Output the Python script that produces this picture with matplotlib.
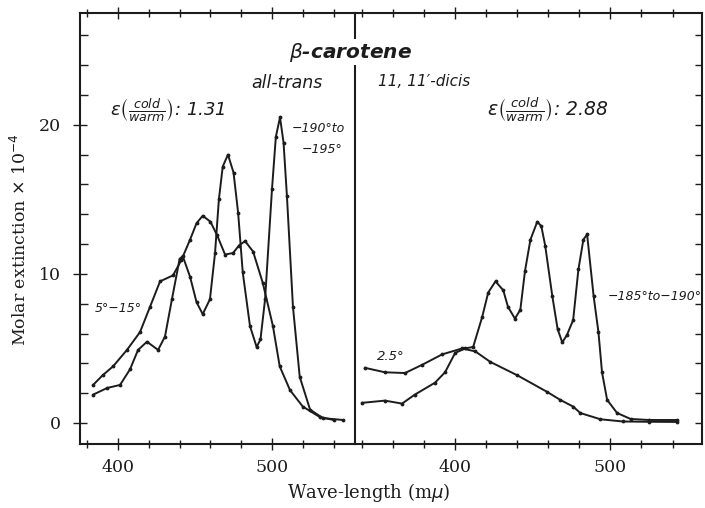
"""
beta_carotene_spectra.py
Absorption curves of all-trans and 11,11'-dicis beta-carotene, warm vs cold.
"""

import matplotlib
matplotlib.use("Agg")
import matplotlib.pyplot as plt
from matplotlib.ticker import MultipleLocator, FixedLocator

W, H = 705, 508

# all-trans (left panel), warm 5-15 deg
TRANS_WARM_WL = [383.8, 390, 396.8, 405.8, 414.3, 420.8, 427.3, 435.7, 441, 446.8,
                 451, 455, 460, 464.3, 469.5, 474.7, 478.5, 482.5, 487.7, 494,
                 500.6, 505, 511.7, 520, 531, 540]
TRANS_WARM_EPS = [2.55, 3.2, 3.8, 4.9, 6.1, 7.8, 9.5, 9.9, 10.9, 12.3,
                  13.4, 13.9, 13.5, 12.6, 11.3, 11.4, 11.9, 12.2, 11.5, 9.4,
                  6.5, 3.8, 2.2, 1.1, 0.4, 0.2]

# all-trans, cold -190 to -195 deg
TRANS_COLD_WL = [383.8, 393, 401.3, 407.8, 413, 418.8, 426, 430.5, 435, 440,
                 442, 446.8, 451, 455, 459.7, 463, 465.5, 468, 471.4, 475,
                 478, 481, 485.7, 490, 492.5, 495.5, 500, 502.5, 505.2, 507.5,
                 509.7, 513.6, 518, 524.7, 533, 546]
TRANS_COLD_EPS = [1.9, 2.35, 2.55, 3.6, 4.9, 5.45, 4.9, 5.8, 8.3, 11.0,
                  11.2, 9.8, 8.1, 7.3, 8.3, 11.4, 15.0, 17.2, 18.0, 16.8,
                  14.1, 10.1, 6.5, 5.1, 5.6, 8.3, 15.7, 19.2, 20.5, 18.8,
                  15.2, 7.8, 3.1, 0.9, 0.33, 0.2]

# 11,11'-dicis (right panel), warm 25 deg
DICIS_WARM_WL = [341.9, 354.8, 367.7, 378.7, 391.6, 404.5, 413, 422.6, 440, 459,
                 467.7, 476, 480.6, 493.5, 508, 525, 543]
DICIS_WARM_EPS = [3.7, 3.4, 3.35, 3.9, 4.6, 5.0, 4.8, 4.1, 3.2, 2.1,
                  1.55, 1.1, 0.67, 0.25, 0.1, 0.08, 0.07]

# 11,11'-dicis, cold -185 to -190 deg
DICIS_COLD_WL = [340, 354.8, 365.8, 374, 387, 393.5, 400, 406.5, 411.6, 417.4,
                 421.3, 426, 431, 434, 438.5, 442, 445, 448.5, 452.9, 455.5,
                 458, 462.6, 466, 469, 472, 476, 479.4, 482.6, 485, 489.2,
                 492.3, 494.6, 497.9, 504.3, 513, 525, 543]
DICIS_COLD_EPS = [1.35, 1.5, 1.3, 1.9, 2.7, 3.4, 4.7, 5.0, 5.1, 7.1,
                  8.75, 9.5, 8.9, 7.8, 7.0, 7.6, 10.2, 12.3, 13.5, 13.2,
                  11.9, 8.5, 6.3, 5.4, 5.9, 6.9, 10.3, 12.3, 12.65, 8.5,
                  6.1, 3.4, 1.55, 0.67, 0.27, 0.2, 0.2]

INK = "#1c1c1c"
SERIF = "DejaVu Serif"
HAND = dict(family="DejaVu Sans", style="italic", color=INK)


def fx(px):
    return px / W


def fy(py):
    return 1 - py / H


def style_axis(ax, side):
    ax.set_ylim(-1.41, 27.5)
    for sp in ax.spines.values():
        sp.set_linewidth(1.5)
        sp.set_color(INK)
    ax.xaxis.set_major_locator(FixedLocator([400, 500]))
    ax.xaxis.set_minor_locator(MultipleLocator(20))
    ax.yaxis.set_major_locator(FixedLocator([0, 10, 20]))
    ax.yaxis.set_minor_locator(MultipleLocator(2))
    ax.tick_params(axis="x", which="both", top=True, bottom=True,
                   direction="inout", color=INK, width=1)
    ax.tick_params(axis="x", which="major", length=9, pad=6,
                   labelsize=12.5, labelfontfamily=SERIF, labelcolor=INK)
    ax.tick_params(axis="x", which="minor", length=6)
    if side == "left":
        ax.spines["right"].set_visible(False)
        ax.tick_params(axis="y", which="both", left=True, right=False,
                       direction="inout", color=INK, width=1)
        ax.tick_params(axis="y", which="major", length=10, pad=9,
                       labelsize=12.5, labelfontfamily=SERIF, labelcolor=INK)
        ax.tick_params(axis="y", which="minor", direction="in", length=6)
    else:
        ax.tick_params(axis="y", which="both", left=False, right=True,
                       labelleft=False, direction="in", color=INK,
                       width=1, length=5)


def draw_curve(ax, wl, eps):
    ax.plot(wl, eps, color=INK, lw=1.4, marker=".", markersize=3.5)


fig = plt.figure(figsize=(W / 100, H / 100), dpi=100)
ax_l = fig.add_axes([fx(80), fy(444), fx(355 - 80), (444 - 13) / H])
ax_r = fig.add_axes([fx(355), fy(444), fx(702 - 355), (444 - 13) / H])

ax_l.set_xlim(375.3, 553.9)
ax_r.set_xlim(335.5, 559)
style_axis(ax_l, "left")
style_axis(ax_r, "right")

draw_curve(ax_l, TRANS_WARM_WL, TRANS_WARM_EPS)
draw_curve(ax_l, TRANS_COLD_WL, TRANS_COLD_EPS)
draw_curve(ax_r, DICIS_WARM_WL, DICIS_WARM_EPS)
draw_curve(ax_r, DICIS_COLD_WL, DICIS_COLD_EPS)

fig.text(fx(20), fy(240), r"Molar extinction $\times$ 10$^{-4}$", rotation=90,
         ha="center", va="center", family=SERIF, fontsize=12.5, color=INK)
fig.text(fx(369), fy(493), r"Wave-length (m$\mu$)", ha="center", va="center",
         family=SERIF, fontsize=13, color=INK)

# labels written on the plate
fig.text(fx(350), fy(52), r"$\beta$-carotene", ha="center", va="center",
         fontsize=14.5, weight="bold", zorder=10,
         bbox=dict(fc="white", ec="none", pad=1), **HAND)
fig.text(fx(287), fy(83), "all-trans", ha="center", va="center", fontsize=12.5, **HAND)
fig.text(fx(378), fy(82), "11, 11\u2032-dicis", ha="left", va="center", fontsize=11, **HAND)
fig.text(fx(110), fy(110), r"$\epsilon\left(\frac{cold}{warm}\right)$: 1.31",
         ha="left", va="center", fontsize=13, **HAND)
fig.text(fx(487), fy(110), r"$\epsilon\left(\frac{cold}{warm}\right)$: 2.88",
         ha="left", va="center", fontsize=13.5, **HAND)
fig.text(fx(292), fy(128), "\u2212190\u00b0to", ha="left", va="center", fontsize=9, **HAND)
fig.text(fx(302), fy(150), "\u2212195\u00b0", ha="left", va="center", fontsize=9, **HAND)
fig.text(fx(95), fy(308), "5\u00b0\u221215\u00b0", ha="left", va="center", fontsize=9, **HAND)
fig.text(fx(377), fy(357), "2.5\u00b0", ha="left", va="center", fontsize=9.5, **HAND)
fig.text(fx(608), fy(297), "\u2212185\u00b0to\u2212190\u00b0", ha="left", va="center",
         fontsize=9, **HAND)

plt.savefig("out.png", dpi=100)
